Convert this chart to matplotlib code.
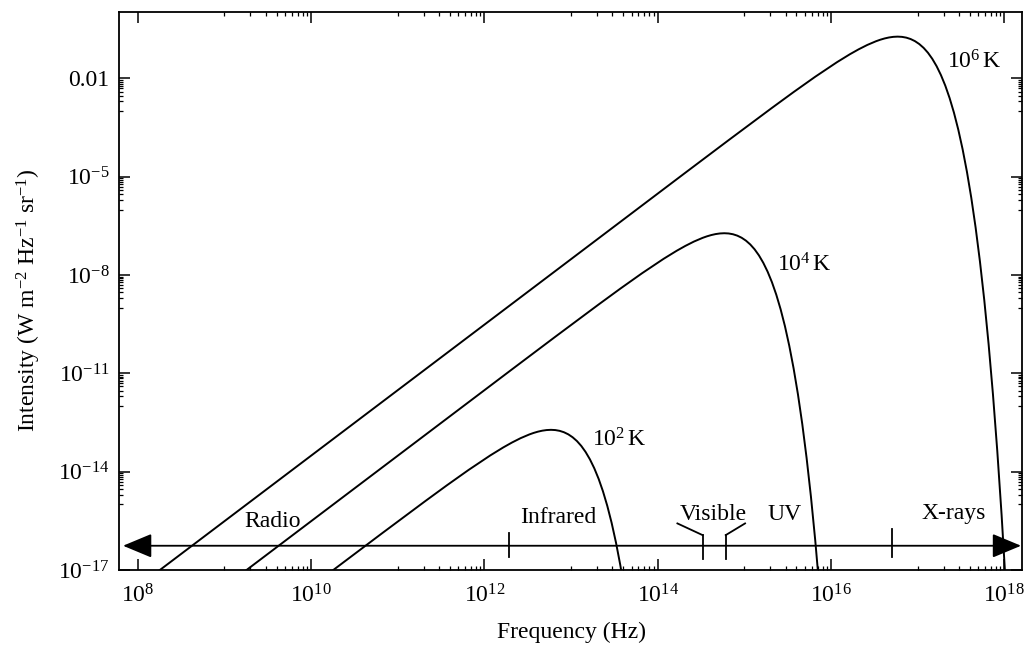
import math
import matplotlib
matplotlib.use("Agg")
import matplotlib.pyplot as plt
from matplotlib.ticker import FixedLocator, FuncFormatter, NullFormatter

plt.rcParams['font.family'] = ['Liberation Serif', 'DejaVu Serif']
plt.rcParams['mathtext.fontset'] = 'custom'
plt.rcParams['mathtext.rm'] = 'Liberation Serif'
plt.rcParams['mathtext.it'] = 'Liberation Serif:italic'
plt.rcParams['mathtext.bf'] = 'Liberation Serif:bold'

# ---- blackbody spectra (frequency in Hz, intensity in W m^-2 Hz^-1 sr^-1) ----
freq_1e6 = [1.315e8, 2.084e14, 6.589e14, 2.084e15, 3.705e15, 6.589e15, 1.172e16,
            1.655e16, 2.084e16, 2.623e16, 3.302e16, 3.705e16, 4.158e16, 4.665e16,
            5.234e16, 5.873e16, 6.589e16, 7.393e16, 8.295e16, 9.308e16, 1.044e17,
            1.172e17, 1.315e17, 1.475e17, 1.655e17, 1.857e17, 2.084e17, 2.338e17,
            2.623e17, 2.943e17, 3.302e17, 3.705e17, 4.158e17, 4.665e17, 5.234e17,
            5.873e17, 6.589e17, 7.393e17, 8.295e17, 9.308e17, 1.044e18]
inten_1e6 = [5.31e-18, 1.327e-5, 1.313e-4, 1.268e-3, 3.855e-3, 1.134e-2, 3.143e-2,
             5.511e-2, 7.763e-2, 1.056e-1, 1.369e-1, 1.525e-1, 1.668e-1, 1.786e-1,
             1.866e-1, 1.896e-1, 1.865e-1, 1.766e-1, 1.601e-1, 1.381e-1, 1.126e-1,
             8.600e-2, 6.105e-2, 3.990e-2, 2.374e-2, 1.272e-2, 6.056e-3, 2.525e-3,
             9.072e-4, 2.758e-4, 6.951e-5, 1.420e-5, 2.290e-6, 2.835e-7, 2.607e-8,
             1.718e-9, 7.789e-11, 2.322e-12, 4.321e-14, 4.742e-16, 2.876e-18]

freq_1e4 = [1.315e9, 2.084e12, 6.589e12, 2.084e13, 3.705e13, 6.589e13, 1.172e14,
            1.655e14, 2.084e14, 2.623e14, 3.302e14, 3.705e14, 4.158e14, 4.665e14,
            5.234e14, 5.873e14, 6.589e14, 7.393e14, 8.295e14, 9.308e14, 1.044e15,
            1.172e15, 1.315e15, 1.475e15, 1.655e15, 1.857e15, 2.084e15, 2.338e15,
            2.623e15, 2.943e15, 3.302e15, 3.705e15, 4.158e15, 4.665e15, 5.234e15,
            5.873e15, 6.589e15, 7.393e15]
inten_1e4 = [5.31e-18, 1.327e-11, 1.313e-10, 1.268e-9, 3.855e-9, 1.134e-8, 3.143e-8,
             5.511e-8, 7.763e-8, 1.056e-7, 1.369e-7, 1.525e-7, 1.668e-7, 1.786e-7,
             1.866e-7, 1.896e-7, 1.865e-7, 1.766e-7, 1.601e-7, 1.381e-7, 1.126e-7,
             8.600e-8, 6.105e-8, 3.990e-8, 2.374e-8, 1.272e-8, 6.056e-9, 2.525e-9,
             9.072e-10, 2.758e-10, 6.951e-11, 1.420e-11, 2.290e-12, 2.835e-13,
             2.607e-14, 1.718e-15, 7.789e-17, 2.322e-18]

freq_1e2 = [1.315e10, 2.084e10, 6.589e10, 2.084e11, 3.705e11, 6.589e11, 1.172e12,
            1.655e12, 2.084e12, 2.623e12, 3.302e12, 3.705e12, 4.158e12, 4.665e12,
            5.234e12, 5.873e12, 6.589e12, 7.393e12, 8.295e12, 9.308e12, 1.044e13,
            1.172e13, 1.315e13, 1.475e13, 1.655e13, 1.857e13, 2.084e13, 2.338e13,
            2.623e13, 2.943e13, 3.302e13, 3.705e13, 4.158e13]
inten_1e2 = [5.29e-18, 1.327e-17, 1.313e-16, 1.268e-15, 3.855e-15, 1.134e-14, 3.143e-14,
             5.511e-14, 7.763e-14, 1.056e-13, 1.369e-13, 1.525e-13, 1.668e-13, 1.786e-13,
             1.866e-13, 1.896e-13, 1.865e-13, 1.766e-13, 1.601e-13, 1.381e-13, 1.126e-13,
             8.600e-14, 6.105e-14, 3.990e-14, 2.374e-14, 1.272e-14, 6.056e-15, 2.525e-15,
             9.072e-16, 2.758e-16, 6.951e-17, 1.420e-17, 2.290e-18]

curve_labels = [r'$10^{6}\,$K', r'$10^{4}\,$K', r'$10^{2}\,$K']

# ---- spectral bands ----
band_names = ['Radio', 'Infrared', 'Visible', 'UV', 'X-rays']
band_edges = [1.95e12, 3.3e14, 6.1e14, 5.1e16]   # Hz
band_level = 5.5e-17

x_major = [1e8, 1e10, 1e12, 1e14, 1e16, 1e18]
y_major = [1e-17, 1e-14, 1e-11, 1e-8, 1e-5, 1e-2]

# ---- figure ----
fig = plt.figure(figsize=(10.28, 6.48), dpi=100)
ax = fig.add_axes([119 / 1028, 1 - 570 / 648, 903 / 1028, 558 / 648])
ax.set_xscale('log')
ax.set_yscale('log')
ax.set_xlim(6.09e7, 1.6e18)
ax.set_ylim(1e-17, 1.07)

for fr, it in [(freq_1e6, inten_1e6), (freq_1e4, inten_1e4), (freq_1e2, inten_1e2)]:
    ax.plot(fr, it, color='black', lw=1.4, solid_capstyle='butt')

# curve labels (axes-fraction positions, baseline anchored)
label_pos = [(0.9468, 0.8996), (0.7586, 0.5346), (0.5537, 0.2210)]
for txt, (xf, yf) in zip(curve_labels, label_pos):
    ax.text(xf, yf, txt, transform=ax.transAxes, ha='center', va='baseline',
            fontsize=17)

# double-headed band axis
ax.annotate('', xy=(6.78e7, band_level), xytext=(1.56e18, band_level),
            arrowprops=dict(arrowstyle='<|-|>,head_length=1.8,head_width=0.75',
                            mutation_scale=10, color='black', lw=1.3,
                            shrinkA=0, shrinkB=0),
            annotation_clip=False)

# band boundary ticks
tick_spans = [(2.49e-17, 1.34e-16), (2.16e-17, 1.16e-16), (2.16e-17, 1.16e-16),
              (2.49e-17, 1.77e-16)]
for edge, (lo, hi) in zip(band_edges, tick_spans):
    ax.plot([edge, edge], [lo, hi], color='black', lw=1.3)

# brackets pointing at the visible label
ax.plot([band_edges[1], 1.69e14], [1.16e-16, 2.64e-16], color='black', lw=1.3)
ax.plot([band_edges[2], 1.02e15], [1.16e-16, 2.64e-16], color='black', lw=1.3)

band_label_pos = [(0.1700, 0.0771), (0.4867, 0.0842), (0.6578, 0.0896),
                  (0.7370, 0.0896), (0.9247, 0.0914)]
for name, (xf, yf) in zip(band_names, band_label_pos):
    ax.text(xf, yf, name, transform=ax.transAxes, ha='center', va='baseline',
            fontsize=17)

# ---- ticks ----
x_minor = [k * 10.0 ** (m - 1) for m in (10, 12, 14, 16, 18) for k in range(1, 10)]
y_minor = [k * 10.0 ** (m - 1) for m in (-14, -11, -8, -5, -2) for k in range(1, 10)]

ax.xaxis.set_major_locator(FixedLocator(x_major))
ax.xaxis.set_minor_locator(FixedLocator(x_minor))
ax.yaxis.set_major_locator(FixedLocator(y_major))
ax.yaxis.set_minor_locator(FixedLocator(y_minor))
ax.xaxis.set_minor_formatter(NullFormatter())
ax.yaxis.set_minor_formatter(NullFormatter())


def xfmt(v, _):
    return r'$10^{%d}$' % round(math.log10(v))


def yfmt(v, _):
    e = round(math.log10(v))
    if e == -2:
        return '0.01'
    return r'$10^{%d}$' % e


ax.xaxis.set_major_formatter(FuncFormatter(xfmt))
ax.yaxis.set_major_formatter(FuncFormatter(yfmt))

ax.tick_params(which='both', direction='in', top=True, right=True,
               labelsize=17, colors='black')
ax.tick_params(which='major', length=8, width=1.1)
ax.tick_params(which='minor', length=3, width=0.9)
ax.tick_params(axis='x', which='major', pad=10)
ax.tick_params(axis='y', which='major', pad=7)

for s in ax.spines.values():
    s.set_linewidth(1.3)

ax.set_xlabel('Frequency (Hz)', fontsize=17)
ax.xaxis.set_label_coords(0.5006, -0.0932)
ax.set_ylabel(r'Intensity (W m$^{-2}$ Hz$^{-1}$ sr$^{-1}$)', fontsize=17)
ax.yaxis.set_label_coords(-0.084, 0.4839)

fig.savefig('out.png', dpi=100)
